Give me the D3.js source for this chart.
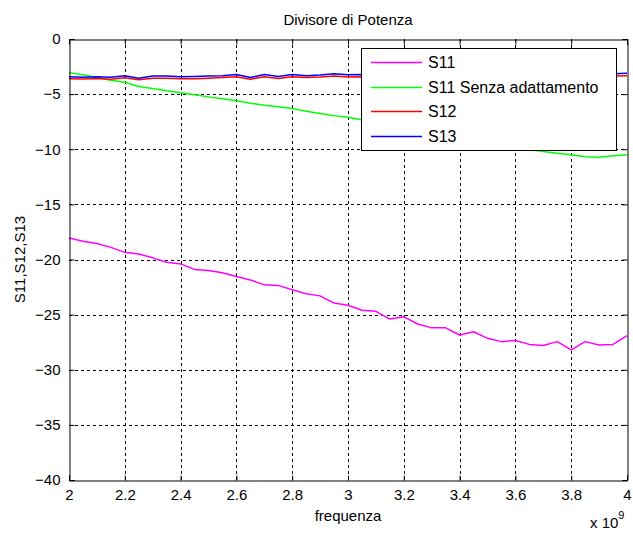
<!DOCTYPE html>
<html>
<head>
<meta charset="utf-8">
<script src="https://cdn.jsdelivr.net/npm/d3@7"></script>
<style>
  html, body { margin: 0; padding: 0; background: #fff; }
  svg { display: block; font-family: "Liberation Sans", Arial, sans-serif; }
</style>
</head>
<body>
<script>
// ---- data (frequency in units of 1e9 Hz) ----
const freq = [2.00,2.05,2.10,2.15,2.20,2.25,2.30,2.35,2.40,2.45,2.50,2.55,2.60,2.65,2.70,2.75,2.80,2.85,2.90,2.95,
              3.00,3.05,3.10,3.15,3.20,3.25,3.30,3.35,3.40,3.45,3.50,3.55,3.60,3.65,3.70,3.75,3.80,3.85,3.90,3.95,4.00];
const s11 = [-18.05,-18.35,-18.55,-18.9,-19.35,-19.5,-19.85,-20.25,-20.4,-20.9,-21.0,-21.2,-21.55,-21.85,-22.3,-22.35,-22.75,-23.1,-23.3,-23.95,
             -24.15,-24.6,-24.7,-25.4,-25.2,-25.85,-26.2,-26.2,-26.85,-26.55,-27.15,-27.45,-27.35,-27.7,-27.8,-27.45,-28.2,-27.45,-27.75,-27.7,-26.9];
const s11NoMatch = [-3.05,-3.25,-3.5,-3.75,-3.93,-4.3,-4.5,-4.7,-4.87,-5.05,-5.25,-5.42,-5.6,-5.82,-6.0,-6.15,-6.3,-6.55,-6.75,-6.95,
             -7.1,-7.35,-7.6,-7.8,-8.0,-8.2,-8.45,-8.65,-8.85,-9.1,-9.3,-9.55,-9.8,-10.05,-10.2,-10.37,-10.5,-10.68,-10.72,-10.6,-10.5];
const s12 = [-3.6,-3.62,-3.58,-3.65,-3.52,-3.7,-3.55,-3.55,-3.6,-3.6,-3.55,-3.5,-3.42,-3.65,-3.42,-3.58,-3.42,-3.5,-3.45,-3.35,
             -3.45,-3.42,-3.5,-3.4,-3.55,-3.45,-3.5,-3.4,-3.48,-3.45,-3.4,-3.5,-3.35,-3.45,-3.4,-3.3,-3.4,-3.35,-3.3,-3.35,-3.33];
const s13 = [-3.42,-3.48,-3.42,-3.48,-3.33,-3.55,-3.36,-3.36,-3.42,-3.4,-3.36,-3.33,-3.22,-3.5,-3.22,-3.4,-3.23,-3.33,-3.27,-3.15,
             -3.25,-3.22,-3.3,-3.2,-3.35,-3.25,-3.3,-3.2,-3.3,-3.25,-3.2,-3.3,-3.15,-3.25,-3.2,-3.1,-3.2,-3.15,-3.1,-3.15,-3.11];

const seriesNames  = ["S11", "S11 Senza adattamento", "S12", "S13"];
const seriesValues = [s11, s11NoMatch, s12, s13];
const seriesColors = ["#ff00ff", "#00ff00", "#ff0000", "#0000ff"];

const xTicks = [2, 2.2, 2.4, 2.6, 2.8, 3, 3.2, 3.4, 3.6, 3.8, 4];
const yTicks = [0, -5, -10, -15, -20, -25, -30, -35, -40];

const titleText = "Divisore di Potenza";
const xLabelText = "frequenza";
const yLabelText = "S11,S12,S13";

// ---- layout ----
const W = 633, H = 533;
const L = 69, R = 627, T = 39, B = 480;

const svg = d3.select("body").append("svg").attr("width", W).attr("height", H);
svg.append("rect").attr("width", W).attr("height", H).attr("fill", "#fff");

const x = d3.scaleLinear().domain([2, 4]).range([L, R]);
const y = d3.scaleLinear().domain([-40, 0]).range([B, T]);

// grid
const grid = svg.append("g").attr("stroke", "#000").attr("stroke-width", 1).attr("stroke-dasharray", "3,3");
grid.selectAll("line.v").data(xTicks.slice(1, -1)).enter().append("line")
  .attr("x1", d => Math.round(x(d)) + 0.5).attr("x2", d => Math.round(x(d)) + 0.5)
  .attr("y1", T).attr("y2", B);
grid.selectAll("line.h").data(yTicks.slice(1, -1)).enter().append("line")
  .attr("y1", d => Math.round(y(d)) + 0.5).attr("y2", d => Math.round(y(d)) + 0.5)
  .attr("x1", L).attr("x2", R);

// series lines
const plot = svg.append("g");
seriesValues.forEach((vals, i) => {
  const line = d3.line().x((d, j) => x(freq[j])).y(d => y(d));
  plot.append("path").datum(vals)
    .attr("d", line)
    .attr("fill", "none")
    .attr("stroke", seriesColors[i])
    .attr("stroke-width", 1.5)
    .attr("stroke-linejoin", "round");
});

// axes (MATLAB style: box with inward ticks on all sides)
const fs = 15;
const axB = d3.axisBottom(x).tickValues(xTicks).tickSize(-5).tickPadding(9).tickFormat(d3.format("~g"));
const axT = d3.axisTop(x).tickValues(xTicks).tickSize(-5).tickFormat("");
const axL = d3.axisLeft(y).tickValues(yTicks).tickSize(-5).tickPadding(9).tickFormat(d3.format("~g"));
const axR = d3.axisRight(y).tickValues(yTicks).tickSize(-5).tickFormat("");

function styleAxis(g) {
  g.select(".domain").attr("stroke", "#000");
  g.selectAll(".tick line").attr("stroke", "#000");
  g.selectAll(".tick text").attr("fill", "#000").attr("font-size", fs).attr("font-family", "Liberation Sans, Arial, sans-serif");
}
svg.append("g").attr("transform", `translate(0,${B + 0.5})`).call(axB).call(styleAxis);
svg.append("g").attr("transform", `translate(0,${T + 0.5})`).call(axT).call(styleAxis);
svg.append("g").attr("transform", `translate(${L + 0.5},0)`).call(axL).call(styleAxis);
svg.append("g").attr("transform", `translate(${R + 0.5},0)`).call(axR).call(styleAxis);

// title and labels
svg.append("text").attr("x", (L + R) / 2).attr("y", 25).attr("text-anchor", "middle")
  .attr("font-size", fs).text(titleText);
svg.append("text").attr("x", (L + R) / 2).attr("y", 521).attr("text-anchor", "middle")
  .attr("font-size", fs).text(xLabelText);
svg.append("text").attr("transform", `translate(25,${(T + B) / 2}) rotate(-90)`).attr("text-anchor", "middle")
  .attr("font-size", fs).text(yLabelText);

// exponent label
const ex = svg.append("text").attr("x", 590).attr("y", 528).attr("font-size", fs);
ex.append("tspan").text("x 10");
ex.append("tspan").attr("dy", -9).attr("font-size", 11).text("9");

// legend
const lg = svg.append("g");
const lgX = 361, lgY = 48, lgW = 255, lgH = 102;
lg.append("rect").attr("x", lgX + 0.5).attr("y", lgY + 0.5).attr("width", lgW).attr("height", lgH)
  .attr("fill", "#fff").attr("stroke", "#000").attr("stroke-width", 1);
const rowY = d3.scalePoint().domain(seriesNames).range([62, 136]);
seriesNames.forEach((name, i) => {
  const ry = Math.round(rowY(name)) + 0.5;
  lg.append("line").attr("x1", 371).attr("x2", 422).attr("y1", ry).attr("y2", ry)
    .attr("stroke", seriesColors[i]).attr("stroke-width", 1.5);
  lg.append("text").attr("x", 428).attr("y", ry).attr("dy", "0.36em")
    .attr("font-size", 16).text(name);
});
</script>
</body>
</html>
